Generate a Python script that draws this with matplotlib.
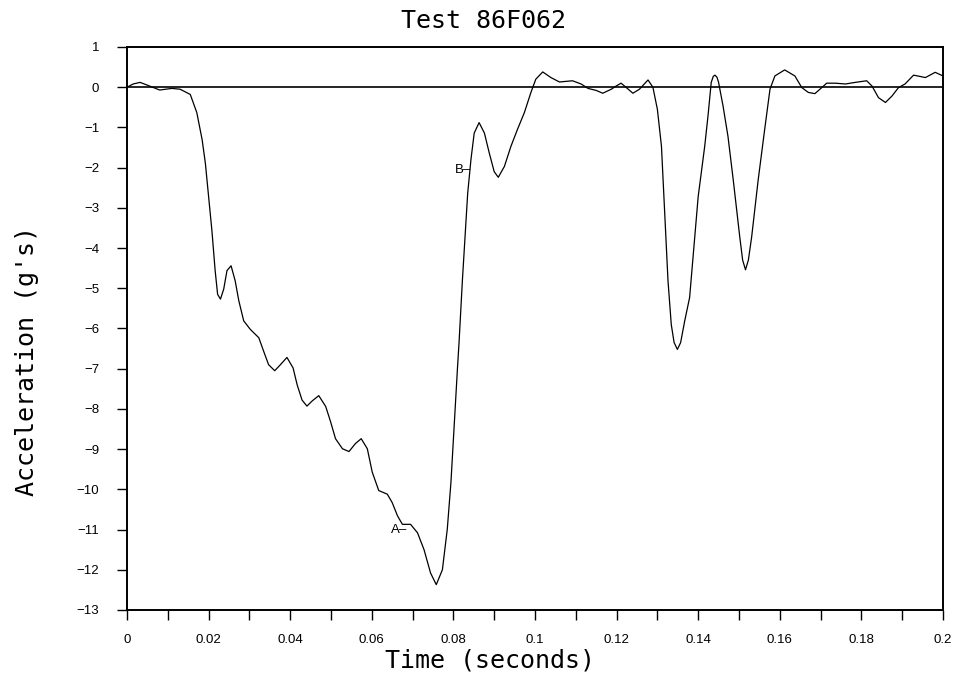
import matplotlib
matplotlib.use("Agg")
import matplotlib.pyplot as plt
from matplotlib.ticker import MultipleLocator, FixedLocator

# Values
time_s = [
    0.0, 0.0015, 0.0032, 0.0050, 0.0080, 0.0110, 0.0130, 0.0155, 0.0171, 0.0184,
    0.0192, 0.0200, 0.0208, 0.0216, 0.0222, 0.0229, 0.0237, 0.0245, 0.0255, 0.0265,
    0.0274, 0.0286, 0.0302, 0.0323, 0.0335, 0.0347, 0.0362, 0.0376, 0.0392, 0.0407,
    0.0417, 0.0429, 0.0441, 0.0454, 0.0470, 0.0487, 0.0499, 0.0511, 0.0528, 0.0544,
    0.0560, 0.0574, 0.0589, 0.0601, 0.0617, 0.0638, 0.0650, 0.0663, 0.0675, 0.0695,
    0.0712, 0.0728, 0.0744, 0.0758, 0.0773, 0.0785, 0.0794, 0.0802, 0.0810, 0.0814,
    0.0822, 0.0835, 0.0843, 0.0851, 0.0863, 0.0876, 0.0888, 0.0900, 0.0910, 0.0925,
    0.0941, 0.0957, 0.0974, 0.0990, 0.1002, 0.1019, 0.1039, 0.1060, 0.1092, 0.1113,
    0.1130, 0.1150, 0.1166, 0.1187, 0.1199, 0.1211, 0.1224, 0.1240, 0.1256, 0.1277,
    0.1289, 0.1300, 0.1310, 0.1318, 0.1326, 0.1334, 0.1341, 0.1349, 0.1357, 0.1367,
    0.1379, 0.1400, 0.1416, 0.1424, 0.1432, 0.1437, 0.1441, 0.1446, 0.1450, 0.1461,
    0.1473, 0.1486, 0.1502, 0.1509, 0.1516, 0.1523, 0.1531, 0.1547, 0.1563, 0.1576,
    0.1588, 0.1612, 0.1637, 0.1654, 0.1670, 0.1686, 0.1703, 0.1715, 0.1736, 0.1761,
    0.1785, 0.1813, 0.1826, 0.1842, 0.1859, 0.1875, 0.1891, 0.1907, 0.1928, 0.1957,
    0.1981, 0.2000,
]
accel_g = [
    0.0, 0.08, 0.12, 0.05, -0.07, -0.03, -0.05, -0.18, -0.63, -1.30,
    -1.89, -2.72, -3.56, -4.56, -5.15, -5.27, -5.02, -4.56, -4.44, -4.81,
    -5.31, -5.81, -6.02, -6.23, -6.57, -6.90, -7.05, -6.90, -6.72, -6.98,
    -7.40, -7.78, -7.93, -7.80, -7.67, -7.94, -8.32, -8.74, -8.99, -9.06,
    -8.86, -8.74, -8.99, -9.57, -10.03, -10.12, -10.33, -10.66, -10.87, -10.87,
    -11.08, -11.50, -12.08, -12.37, -12.00, -10.99, -9.82, -8.40, -6.98, -6.32,
    -4.81, -2.64, -1.80, -1.14, -0.88, -1.14, -1.64, -2.10, -2.24, -1.97,
    -1.47, -1.05, -0.63, -0.13, 0.20, 0.38, 0.24, 0.13, 0.16, 0.08,
    -0.03, -0.08, -0.15, -0.05, 0.03, 0.10, -0.01, -0.15, -0.05, 0.18,
    0.00, -0.55, -1.47, -3.14, -4.81, -5.90, -6.35, -6.52, -6.35, -5.81,
    -5.23, -2.72, -1.47, -0.72, 0.12, 0.27, 0.30, 0.25, 0.12, -0.47,
    -1.22, -2.31, -3.73, -4.30, -4.54, -4.30, -3.73, -2.31, -1.05, -0.05,
    0.28, 0.43, 0.28, -0.01, -0.13, -0.16, -0.01, 0.10, 0.10, 0.08,
    0.12, 0.16, 0.03, -0.26, -0.38, -0.22, -0.01, 0.08, 0.30, 0.24,
    0.37, 0.28,
]

x_major = [0.0, 0.02, 0.04, 0.06, 0.08, 0.1, 0.12, 0.14, 0.16, 0.18, 0.2]
x_labels = ["0", "0.02", "0.04", "0.06", "0.08", "0.1", "0.12", "0.14", "0.16", "0.18", "0.2"]
y_ticks = list(range(1, -14, -1))
y_labels = ["\u2212" + str(-v) if v < 0 else str(v) for v in y_ticks]

# markers on the curve: (text, t, g)
point_a = ("A\u2013", 0.0646, -11.0)
point_b = ("B\u2013", 0.0843, -2.06)

fig = plt.figure(figsize=(9.58, 6.85), dpi=100)
ax = fig.add_axes([0.1326, 0.1095, 0.8517, 0.8219])

ax.plot(time_s, accel_g, color="black", lw=0.9)
ax.axhline(0, color="black", lw=1.2)

ax.set_xlim(0, 0.2)
ax.set_ylim(-13, 1)

ax.xaxis.set_major_locator(FixedLocator(x_major))
ax.set_xticklabels(x_labels)
ax.xaxis.set_minor_locator(MultipleLocator(0.01))
ax.set_yticks(y_ticks)
ax.set_yticklabels(y_labels)

ax.tick_params(which="both", direction="out", length=7, width=1.0, labelsize=9.5)
ax.tick_params(axis="x", pad=10)
ax.tick_params(axis="y", pad=13)
for lbl in ax.get_xticklabels() + ax.get_yticklabels():
    lbl.set_fontfamily("Liberation Sans")

for sp in ax.spines.values():
    sp.set_linewidth(1.4)

ax.text(point_a[1], point_a[2], point_a[0], fontsize=9.5, ha="left", va="center",
        family="Liberation Sans")
ax.text(point_b[1], point_b[2], point_b[0], fontsize=9.5, ha="right", va="center",
        family="Liberation Sans")

fig.text(0.505, 0.969, "Test 86F062", fontsize=18, family="DejaVu Sans Mono",
         ha="center", va="center")
fig.text(0.511, 0.036, "Time (seconds)", fontsize=18, family="DejaVu Sans Mono",
         ha="center", va="center")
fig.text(0.028, 0.473, "Acceleration (g's)", fontsize=18, family="DejaVu Sans Mono",
         ha="center", va="center", rotation=90)

fig.savefig("out.png", dpi=100)
